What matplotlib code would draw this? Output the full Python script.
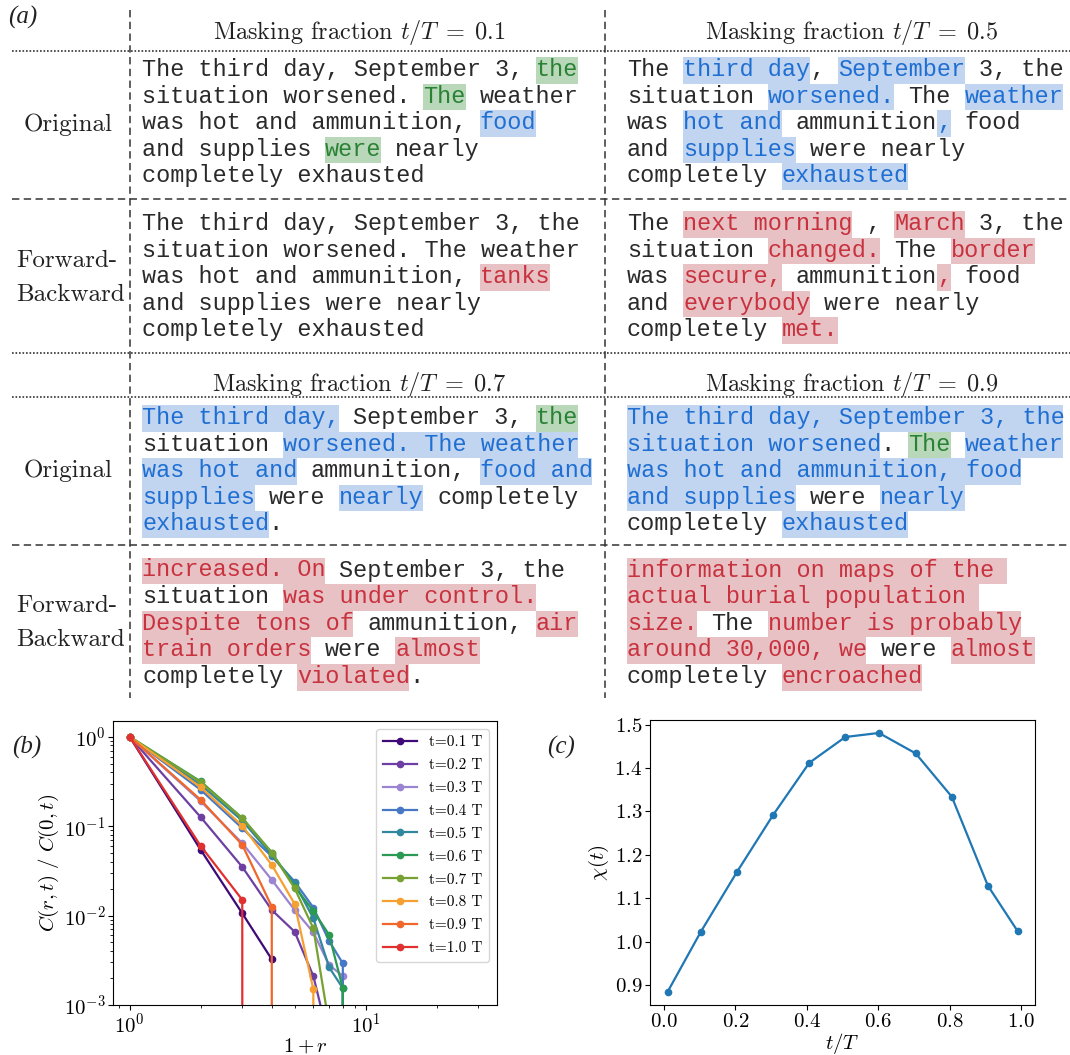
import numpy as np
import matplotlib
matplotlib.use("Agg")
import matplotlib.pyplot as plt
from matplotlib.patches import Rectangle
from matplotlib.ticker import MultipleLocator

plt.rcParams['font.family'] = ['cmr10', 'DejaVu Sans']
plt.rcParams['mathtext.fontset'] = 'cm'
plt.rcParams['axes.formatter.use_mathtext'] = True
plt.rcParams['axes.unicode_minus'] = False

# ---------------- data: panel (a) text cells ----------------
# tag: n = plain, b = blue (kept/predicted), g = green, r = red (changed)
headers = [r'Masking fraction $t/T\;=\;0.1$', r'Masking fraction $t/T\;=\;0.5$',
           r'Masking fraction $t/T\;=\;0.7$', r'Masking fraction $t/T\;=\;0.9$']

orig_01 = [[("The third day, September 3, ", "n"), ("the", "g")],
           [("situation worsened. ", "n"), ("The", "g"), (" weather", "n")],
           [("was hot and ammunition, ", "n"), ("food", "b")],
           [("and supplies ", "n"), ("were", "g"), (" nearly", "n")],
           [("completely exhausted", "n")]]
fb_01 = [[("The third day, September 3, the", "n")],
         [("situation worsened. The weather", "n")],
         [("was hot and ammunition, ", "n"), ("tanks", "r")],
         [("and supplies were nearly", "n")],
         [("completely exhausted", "n")]]
orig_05 = [[("The ", "n"), ("third day", "b"), (", ", "n"), ("September", "b"), (" 3, the", "n")],
           [("situation ", "n"), ("worsened.", "b"), (" The ", "n"), ("weather", "b")],
           [("was ", "n"), ("hot and", "b"), (" ammunition", "n"), (",", "b"), (" food", "n")],
           [("and ", "n"), ("supplies", "b"), (" were nearly", "n")],
           [("completely ", "n"), ("exhausted", "b")]]
fb_05 = [[("The ", "n"), ("next morning", "r"), (" , ", "n"), ("March", "r"), (" 3, the", "n")],
         [("situation ", "n"), ("changed.", "r"), (" The ", "n"), ("border", "r")],
         [("was ", "n"), ("secure,", "r"), (" ammunition", "n"), (",", "r"), (" food", "n")],
         [("and ", "n"), ("everybody", "r"), (" were nearly", "n")],
         [("completely ", "n"), ("met.", "r")]]
orig_07 = [[("The third day,", "b"), (" September 3, ", "n"), ("the", "g")],
           [("situation ", "n"), ("worsened. The weather", "b")],
           [("was hot and", "b"), (" ammunition, ", "n"), ("food and", "b")],
           [("supplies", "b"), (" were ", "n"), ("nearly", "b"), (" completely", "n")],
           [("exhausted", "b"), (".", "n")]]
fb_07 = [[("increased. On", "r"), (" September 3, the", "n")],
         [("situation ", "n"), ("was under control.", "r")],
         [("Despite tons of", "r"), (" ammunition, ", "n"), ("air", "r")],
         [("train orders", "r"), (" were ", "n"), ("almost", "r")],
         [("completely ", "n"), ("violated", "r"), (".", "n")]]
orig_09 = [[("The third day, September 3, the", "b")],
           [("situation worsened", "b"), (". ", "n"), ("The", "g"), (" ", "n"), ("weather", "b")],
           [("was hot and ammunition, food", "b")],
           [("and supplies", "b"), (" were ", "n"), ("nearly", "b")],
           [("completely ", "n"), ("exhausted", "b")]]
fb_09 = [[("information on maps of the ", "r")],
         [("actual burial population ", "r")],
         [("size.", "r"), (" The ", "n"), ("number is probably", "r")],
         [("around 30,000, we", "r"), (" were ", "n"), ("almost", "r")],
         [("completely ", "n"), ("encroached", "r")]]

# ---------------- data: panel (b) ----------------
t_labels = ['t=0.1 T', 't=0.2 T', 't=0.3 T', 't=0.4 T', 't=0.5 T',
            't=0.6 T', 't=0.7 T', 't=0.8 T', 't=0.9 T', 't=1.0 T']
corr = [
    [1, 0.0543, 0.0106, 0.00324],
    [1, 0.126, 0.035, 0.01155, 0.0066, 0.00211, 0.0004],
    [1, 0.19, 0.0645, 0.0251, 0.01155, 0.0065, 0.0028, 0.00211, 0],
    [1, 0.255, 0.0948, 0.046, 0.024, 0.0123, 0.0052, 0.00292, 0],
    [1, 0.29, 0.115, 0.0477, 0.023, 0.00933, 0.00264, 0.00154, 0],
    [1, 0.316, 0.123, 0.0507, 0.021, 0.0113, 0.00608, 0.00154, 0],
    [1, 0.31, 0.123, 0.0507, 0.0202, 0.00721, 0.0006],
    [1, 0.273, 0.1007, 0.0369, 0.0135, 0.0015, 0],
    [1, 0.197, 0.0618, 0.0126, 0],
    [1, 0.060, 0.0150, 0],
]
t_colors = ['#3d0a78', '#6d3fa3', '#9b84d2', '#4678c6', '#31889e',
            '#2a9a52', '#77a132', '#f5a030', '#f1662a', '#e0302f']

# ---------------- data: panel (c) ----------------
tT = [0.01, 0.103, 0.204, 0.306, 0.407, 0.508, 0.602, 0.705, 0.806, 0.907, 0.99]
chi = [0.8845, 1.0228, 1.1602, 1.2923, 1.412, 1.4714, 1.4807, 1.4336, 1.334, 1.1293, 1.0251]

W, H = 1070, 1055
fig = plt.figure(figsize=(W / 100, H / 100), dpi=100)

# pixel-coordinate canvas for panel (a)
ax0 = fig.add_axes([0, 0, 1, 1])
ax0.set_xlim(0, W)
ax0.set_ylim(H, 0)
ax0.axis('off')

bg = {'b': '#c1d4f0', 'g': '#b9d7b9', 'r': '#e8c1c5'}
fg = {'n': '#2a2a2a', 'b': '#1f6fd2', 'g': '#2a8234', 'r': '#c8323e'}
CW = 14.07            # char advance, px
LH = 26.6             # line height, px
FS_MONO = CW / 0.6 * 0.72
FS_LAB = 18


def draw_cell(x0, yb0, lines):
    for i, line in enumerate(lines):
        yb = yb0 + i * LH
        col = 0
        for txt, tag in line:
            n = len(txt)
            if tag != 'n':
                ax0.add_patch(Rectangle((x0 + col * CW, yb - 19), n * CW, LH,
                                        facecolor=bg[tag], lw=0, zorder=1))
            s = txt.lstrip()
            off = n - len(s)
            if s.strip():
                ax0.text(x0 + (col + off) * CW, yb, s.rstrip(), color=fg[tag],
                         family='Liberation Mono', fontsize=FS_MONO,
                         va='baseline', ha='left', zorder=2)
            col += n


XL, XR = 142, 627
draw_cell(XL, 76, orig_01)
draw_cell(XR, 76, orig_05)
draw_cell(XL, 230, fb_01)
draw_cell(XR, 230, fb_05)
draw_cell(XL, 424, orig_07)
draw_cell(XR, 424, orig_09)
draw_cell(XL, 576.5, fb_07)
draw_cell(XR, 576.5, fb_09)

# headers
for h, (x, y) in zip(headers, [(359, 39), (852, 39), (359, 391), (852, 391)]):
    ax0.text(x, y, h, ha='center', va='baseline', fontsize=17.5, color='#222222')

# row labels
for y in [131.5, 476.5]:
    ax0.text(68, y, 'Original', ha='center', va='baseline', fontsize=FS_LAB, color='#222222')
for y1, y2 in [(267, 301), (611.5, 646)]:
    ax0.text(16, y1, 'Forward-', ha='left', va='baseline', fontsize=FS_LAB, color='#222222')
    ax0.text(16, y2, 'Backward', ha='left', va='baseline', fontsize=FS_LAB, color='#222222')

# table rules
dash = (0, (4.8, 2.9))
dot = (0, (1.0, 1.1))
for y in [50.7, 352.6, 397]:
    ax0.plot([12, W], [y, y], color='#333333', lw=1.2, ls=dot)
for y in [199, 545]:
    ax0.plot([12, W], [y, y], color='#333333', lw=1.1, ls=dash)
for x in [130, 605]:
    ax0.plot([x, x], [10, 698], color='#333333', lw=1.1, ls=dash)

ax0.text(8, 6, '(a)', ha='left', va='top', fontsize=18, style='italic',
         family='Liberation Serif', color='#222222')
ax0.text(12, 736, '(b)', ha='left', va='top', fontsize=18, style='italic',
         family='Liberation Serif', color='#222222')
ax0.text(547, 736, '(c)', ha='left', va='top', fontsize=18, style='italic',
         family='Liberation Serif', color='#222222')

# ---------------- panel (b) ----------------
axb = fig.add_axes([113 / W, (H - 1005) / H, 384 / W, (1005 - 721) / H])
for vals, c, lab in zip(corr, t_colors, t_labels):
    x = np.arange(1, len(vals) + 1)
    axb.plot(x, vals, '-o', color=c, lw=1.6, ms=4.5, label=lab)
axb.set_xscale('log')
axb.set_yscale('log')
axb.set_xlim(0.85, 36)
axb.set_ylim(1e-3, 1.5)
axb.set_xlabel(r'$1+r$', fontsize=15, labelpad=0)
axb.set_ylabel(r'$C(r,t)\ /\ C(0,t)$', fontsize=15, labelpad=2)
axb.tick_params(labelsize=15, pad=2)
axb.legend(loc='upper right', fontsize=11, labelspacing=0.6, handlelength=2.2,
           borderpad=0.45)

# ---------------- panel (c) ----------------
axc = fig.add_axes([650 / W, (H - 1005) / H, 385 / W, (1005 - 720) / H])
axc.plot(tT, chi, '-o', color='#1f77b4', lw=1.6, ms=4.5)
axc.yaxis.set_major_locator(MultipleLocator(0.1))
axc.set_xlabel(r'$t/T$', fontsize=15, labelpad=0)
axc.set_ylabel(r'$\chi(t)$', fontsize=15, labelpad=2)
axc.tick_params(labelsize=15, pad=2)

fig.savefig('out.png', dpi=100)
